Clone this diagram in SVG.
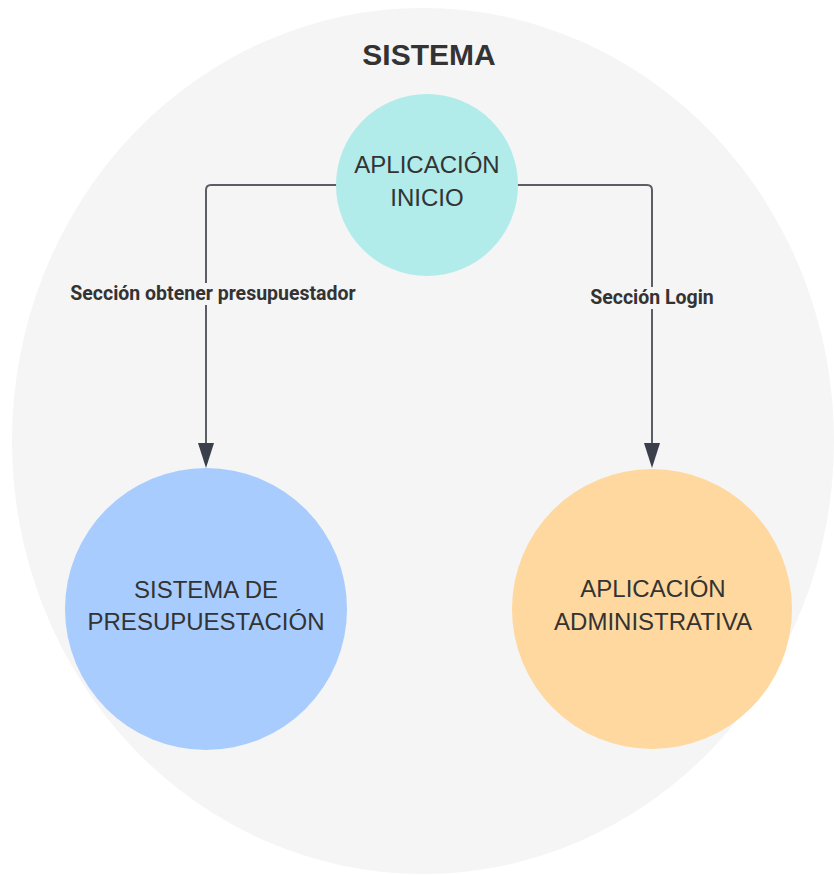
<svg xmlns="http://www.w3.org/2000/svg" width="834" height="875" viewBox="0 0 834 875">
  <style>
    .node-text { font-family: "Liberation Sans", Arial, sans-serif; font-size: 24px; fill: #333333; text-anchor: middle; }
    .title { font-family: "Liberation Sans", Arial, sans-serif; font-size: 30px; font-weight: bold; fill: #333333; text-anchor: middle; }
    .edge-label { font-family: Roboto, "Liberation Sans", sans-serif; font-size: 19.5px; font-weight: bold; fill: #333333; text-anchor: middle; }
    .edge { fill: none; stroke: #5b5e66; stroke-width: 2; }
    .arrowhead { fill: #3a3f4b; }
    .label-bg { fill: #f5f5f5; }
  </style>
  <rect width="834" height="875" fill="#ffffff"/>

  <!-- system container -->
  <g id="sistema">
    <ellipse cx="423" cy="441" rx="411" ry="433" fill="#f5f5f5"/>
    <text class="title" x="429" y="65">SISTEMA</text>
  </g>

  <!-- connectors -->
  <g id="connectors">
    <path class="edge" d="M338,185 H211 Q206,185 206,190 V443"/>
    <path class="edge" d="M517,185 H647 Q652,185 652,190 V443"/>
    <path class="arrowhead" d="M198,443 L214,443 L206,468 Z"/>
    <path class="arrowhead" d="M644,443 L660,443 L652,468 Z"/>
    <rect class="label-bg" x="64" y="283" width="298" height="22"/>
    <text class="edge-label" x="213" y="300">Sección obtener presupuestador</text>
    <rect class="label-bg" x="584" y="287" width="136" height="22"/>
    <text class="edge-label" x="652" y="304">Sección Login</text>
  </g>

  <g id="aplicacion-inicio">
    <circle cx="427" cy="185" r="91" fill="#b1ebea"/>
    <text class="node-text" x="427" y="173">APLICACIÓN</text>
    <text class="node-text" x="427" y="206">INICIO</text>
  </g>

  <g id="sistema-presupuestacion">
    <circle cx="206" cy="609" r="141" fill="#a8ccfe"/>
    <text class="node-text" x="206" y="598">SISTEMA DE</text>
    <text class="node-text" x="206" y="630">PRESUPUESTACIÓN</text>
  </g>

  <g id="aplicacion-administrativa">
    <circle cx="652" cy="609" r="140" fill="#fed89e"/>
    <text class="node-text" x="653" y="597">APLICACIÓN</text>
    <text class="node-text" x="653" y="630">ADMINISTRATIVA</text>
  </g>
</svg>
